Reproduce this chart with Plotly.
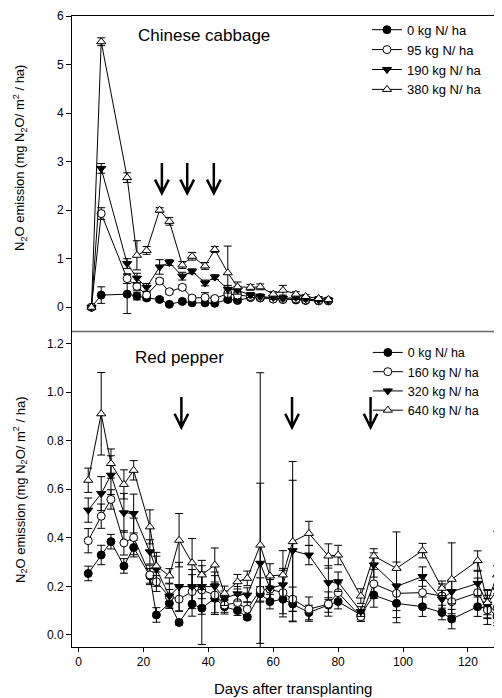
import plotly.graph_objects as go
from plotly.subplots import make_subplots

# ---------------- Data ----------------
days_cc = [4, 7, 15, 18, 21, 25, 28, 32, 35, 39, 42, 46, 49, 53, 56, 60, 63, 67, 70, 74, 77]
cc_0 = [0, 0.25, 0.27, 0.23, 0.19, 0.16, 0.06, 0.12, 0.09, 0.09, 0.08, 0.16, 0.14, 0.20, 0.19, 0.17, 0.16, 0.15, 0.14, 0.13, 0.13]
cc_95 = [0, 1.93, 0.59, 0.43, 0.25, 0.54, 0.32, 0.41, 0.19, 0.20, 0.18, 0.28, 0.25, 0.22, 0.20, 0.17, 0.16, 0.17, 0.15, 0.14, 0.14]
cc_190 = [0, 2.86, 0.90, 0.60, 0.41, 0.83, 0.92, 0.64, 0.74, 0.50, 0.62, 0.37, 0.35, 0.25, 0.22, 0.20, 0.18, 0.20, 0.17, 0.15, 0.14]
cc_380 = [0, 5.47, 2.67, 1.07, 1.17, 2.00, 1.77, 0.87, 1.05, 0.85, 1.19, 0.71, 0.42, 0.41, 0.42, 0.27, 0.35, 0.27, 0.22, 0.18, 0.16]
cc_0_err = [0.02, 0.17, 0.40, 0.08, 0.05, 0.04, 0.03, 0.03, 0.03, 0.03, 0.03, 0.05, 0.04, 0.03, 0.03, 0.03, 0.03, 0.03, 0.03, 0.03, 0.03]
cc_95_err = [0.02, 0.12, 0.10, 0.08, 0.05, 0.05, 0.05, 0.05, 0.04, 0.10, 0.04, 0.05, 0.05, 0.04, 0.04, 0.03, 0.03, 0.03, 0.03, 0.03, 0.03]
cc_190_err = [0.02, 0.10, 0.10, 0.10, 0.08, 0.15, 0.06, 0.08, 0.05, 0.06, 0.05, 0.08, 0.08, 0.05, 0.05, 0.04, 0.05, 0.04, 0.04, 0.03, 0.03]
cc_380_err = [0.03, 0.08, 0.10, 0.30, 0.08, 0.05, 0.08, 0.07, 0.08, 0.07, 0.06, 0.55, 0.10, 0.06, 0.06, 0.05, 0.10, 0.05, 0.04, 0.04, 0.04]
cc_labels = ["0 kg N/ ha", "95 kg N/ ha", "190 kg N/ ha", "380 kg N/ ha"]

days_rp = [3, 7, 10, 14, 17, 22, 24, 28, 31, 35, 38, 42, 45, 49, 52, 56, 59, 63, 66, 71, 77, 80, 87, 91, 98, 106, 112, 115, 123, 126, 129]
rp_0 = [0.253, 0.329, 0.384, 0.284, 0.36, 0.243, 0.082, 0.13, 0.051, 0.127, 0.11, 0.151, 0.116, 0.1, 0.073, 0.169, 0.137, 0.147, 0.127, 0.092, 0.123, 0.137, 0.082, 0.164, 0.13, 0.116, 0.092, 0.065, 0.116, 0.11, 0.078]
rp_160 = [0.388, 0.489, 0.558, 0.379, 0.401, 0.247, 0.219, 0.157, 0.147, 0.178, 0.185, 0.164, 0.123, 0.133, 0.106, 0.185, 0.188, 0.174, 0.147, 0.106, 0.127, 0.174, 0.075, 0.21, 0.171, 0.174, 0.16, 0.137, 0.174, 0.103, 0.11]
rp_320 = [0.514, 0.582, 0.658, 0.503, 0.5, 0.342, 0.27, 0.16, 0.199, 0.199, 0.199, 0.199, 0.151, 0.169, 0.164, 0.295, 0.192, 0.206, 0.347, 0.329, 0.215, 0.219, 0.096, 0.288, 0.2, 0.24, 0.147, 0.178, 0.212, 0.127, 0.185]
rp_640 = [0.637, 0.911, 0.706, 0.62, 0.678, 0.445, 0.284, 0.243, 0.39, 0.297, 0.247, 0.288, 0.171, 0.219, 0.233, 0.37, 0.243, 0.247, 0.384, 0.418, 0.325, 0.329, 0.16, 0.325, 0.274, 0.347, 0.192, 0.229, 0.306, 0.133, 0.247]
rp_0_err = [0.03, 0.04, 0.03, 0.03, 0.03, 0.03, 0.03, 0.02, 0.01, 0.05, 0.15, 0.06, 0.03, 0.02, 0.01, 0.03, 0.03, 0.06, 0.03, 0.03, 0.03, 0.03, 0.02, 0.05, 0.08, 0.04, 0.03, 0.04, 0.04, 0.04, 0.04]
rp_160_err = [0.05, 0.05, 0.04, 0.05, 0.08, 0.04, 0.04, 0.03, 0.05, 0.07, 0.10, 0.08, 0.03, 0.03, 0.03, 0.05, 0.04, 0.10, 0.05, 0.05, 0.05, 0.04, 0.02, 0.06, 0.10, 0.05, 0.05, 0.05, 0.06, 0.06, 0.06]
rp_320_err = [0.05, 0.07, 0.08, 0.08, 0.08, 0.05, 0.07, 0.05, 0.10, 0.07, 0.05, 0.06, 0.03, 0.03, 0.03, 0.33, 0.05, 0.06, 0.29, 0.04, 0.07, 0.04, 0.02, 0.05, 0.10, 0.04, 0.05, 0.05, 0.05, 0.06, 0.10]
rp_640_err = [0.05, 0.17, 0.06, 0.06, 0.04, 0.07, 0.04, 0.03, 0.11, 0.10, 0.06, 0.07, 0.03, 0.03, 0.03, 0.71, 0.05, 0.10, 0.33, 0.05, 0.05, 0.04, 0.03, 0.03, 0.15, 0.03, 0.03, 0.15, 0.04, 0.05, 0.18]
rp_labels = ["0 kg N/ ha", "160 kg N/ ha", "320 kg N/ ha", "640 kg N/ ha"]

arrows_cc = [25.7, 33.5, 41.7]
arrows_rp = [31.7, 65.8, 90.0]

x_ticks = [0, 20, 40, 60, 80, 100, 120]
cc_y_ticks = [0, 1, 2, 3, 4, 5, 6]
rp_y_ticks = [0.0, 0.2, 0.4, 0.6, 0.8, 1.0, 1.2]

# ---------------- Figure ----------------
FONT = "Liberation Sans, Arial, sans-serif"
fig = make_subplots(rows=2, cols=1, shared_xaxes=False, vertical_spacing=0)

styles = [
    dict(symbol="circle", color="black"),
    dict(symbol="circle", color="white"),
    dict(symbol="triangle-down", color="black"),
    dict(symbol="triangle-up", color="white"),
]

def add_series(row, xs, ys, errs, name, st, legend):
    fig.add_trace(go.Scatter(
        x=xs, y=ys, name=name, mode="lines+markers",
        line=dict(color="black", width=1),
        marker=dict(symbol=st["symbol"], color=st["color"], size=8,
                    line=dict(color="black", width=1)),
        error_y=dict(type="data", array=errs, visible=True, color="black",
                     thickness=1, width=4),
        legend=legend,
    ), row=row, col=1)

for ys, es, lab, st in zip([cc_0, cc_95, cc_190, cc_380],
                           [cc_0_err, cc_95_err, cc_190_err, cc_380_err],
                           cc_labels, styles):
    add_series(1, days_cc, ys, es, lab, st, "legend")

for ys, es, lab, st in zip([rp_0, rp_160, rp_320, rp_640],
                           [rp_0_err, rp_160_err, rp_320_err, rp_640_err],
                           rp_labels, styles):
    add_series(2, days_rp, ys, es, lab, st, "legend2")

# arrows drawn as path shapes
def arrow(xref, yref, x, y0, y1, dx, dy):
    path = f"M {x},{y0} L {x},{y1} M {x-dx},{y1+dy} L {x},{y1} L {x+dx},{y1+dy}"
    fig.add_shape(type="path", path=path, xref=xref, yref=yref,
                  line=dict(color="black", width=2.5))

for d in arrows_cc:
    arrow("x", "y", d, 2.97, 2.35, 2.1, 0.28)
for d in arrows_rp:
    arrow("x2", "y2", d, 0.98, 0.855, 2.1, 0.056)

# divider between panels
fig.add_shape(type="line", xref="paper", yref="paper", x0=0, x1=1, y0=0.5, y1=0.5,
              line=dict(color="#666666", width=1.5))

# panel titles
fig.add_annotation(text="Chinese cabbage", x=17.6, y=5.6, xref="x", yref="y",
                   xanchor="left", yanchor="middle", showarrow=False,
                   font=dict(family=FONT, size=17, color="black"))
fig.add_annotation(text="Red pepper", x=16.9, y=1.144, xref="x2", yref="y2",
                   xanchor="left", yanchor="middle", showarrow=False,
                   font=dict(family=FONT, size=17, color="black"))

ytitle = "N<sub>2</sub>O emission (mg N<sub>2</sub>O/ m<sup>2</sup> / ha)"
for yc in [0.775, 0.249]:
    fig.add_annotation(text=ytitle, xref="paper", yref="paper", x=0, y=yc,
                       xshift=-52, textangle=-90, showarrow=False,
                       xanchor="center", yanchor="middle",
                       font=dict(family=FONT, size=13, color="black"))

fig.add_annotation(text="Days after transplanting", xref="paper", yref="paper",
                   x=0.514, y=0, yshift=-41, showarrow=False,
                   xanchor="center", yanchor="middle",
                   font=dict(family=FONT, size=15, color="black"))

axis_common = dict(color="black", linecolor="black", linewidth=1,
                   tickfont=dict(family=FONT, size=12, color="black"),
                   showgrid=False, zeroline=False, automargin=False)

fig.update_xaxes(range=[-2, 130.5], showline=True, side="top", ticks="",
                 showticklabels=False, row=1, col=1, **axis_common)
fig.update_xaxes(range=[-2, 130.5], showline=True, ticks="outside", ticklen=4,
                 tickvals=x_ticks, row=2, col=1, **axis_common)
fig.update_yaxes(range=[-0.5, 6], showline=True, ticks="outside", ticklen=5,
                 tickvals=cc_y_ticks, row=1, col=1, **axis_common)
fig.update_yaxes(range=[-0.05, 1.25], showline=True, ticks="outside", ticklen=5,
                 tickvals=rp_y_ticks, tickformat=".1f", row=2, col=1, **axis_common)

legend_common = dict(bgcolor="rgba(0,0,0,0)", borderwidth=0,
                     tracegroupgap=0, itemwidth=30, xanchor="left", yanchor="top")
fig.update_layout(
    width=502, height=698,
    margin=dict(l=64, r=8, t=8, b=59, autoexpand=False),
    paper_bgcolor="white", plot_bgcolor="white",
    showlegend=True,
    legend=dict(x=0.686, y=1.002, font=dict(family=FONT, size=13, color="black"),
                **legend_common),
    legend2=dict(x=0.688, y=0.490, font=dict(family=FONT, size=12.5, color="black"),
                 **legend_common),
)

fig.write_html("out.html")
